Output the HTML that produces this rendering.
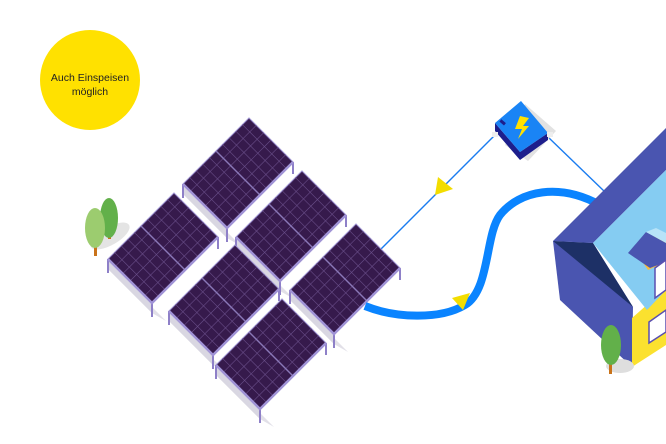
<!DOCTYPE html>
<html><head><meta charset="utf-8"><style>
html,body{margin:0;padding:0;background:#fff;width:666px;height:444px;overflow:hidden}
</style></head><body>
<svg width="666" height="444" viewBox="0 0 666 444" xmlns="http://www.w3.org/2000/svg">
<defs>
<g id="p">
  <polygon points="-66,76 -22,120 -8,128 -52,84" fill="#e2e0e8"/>
  <polygon points="-66,66 -22,110 -22,120 -66,76" fill="#d9d7e2"/>
  <line x1="-66" y1="66" x2="-66" y2="80" stroke="#8e80c8" stroke-width="2"/>
  <line x1="-22" y1="110" x2="-22" y2="124" stroke="#8e80c8" stroke-width="2"/>
  <line x1="44" y1="44" x2="44" y2="56" stroke="#8e80c8" stroke-width="2"/>
  <polygon points="0,0 44,44 -22,110 -66,66" fill="#361a4c" stroke="#9b8fd0" stroke-width="1"/>
  <g stroke="#6a4f8a" stroke-width="0.6">
    <line x1="-6.6" y1="6.6" x2="37.4" y2="50.6"/><line x1="-13.2" y1="13.2" x2="30.8" y2="57.2"/>
    <line x1="-19.8" y1="19.8" x2="24.2" y2="63.8"/><line x1="-26.4" y1="26.4" x2="17.6" y2="70.4"/>
    <line x1="-39.6" y1="39.6" x2="4.4" y2="83.6"/><line x1="-46.2" y1="46.2" x2="-2.2" y2="90.2"/>
    <line x1="-52.8" y1="52.8" x2="-8.8" y2="96.8"/><line x1="-59.4" y1="59.4" x2="-15.4" y2="103.4"/>
    <line x1="7.3" y1="7.3" x2="-58.7" y2="73.3"/><line x1="14.7" y1="14.7" x2="-51.3" y2="80.7"/>
    <line x1="22" y1="22" x2="-44" y2="88"/><line x1="29.3" y1="29.3" x2="-36.7" y2="95.3"/>
    <line x1="36.7" y1="36.7" x2="-29.3" y2="102.7"/>
  </g>
  <line x1="-33" y1="33" x2="11" y2="77" stroke="#8a78b8" stroke-width="1.4"/>
  <polyline points="-66,66 -22,110 44,44" fill="none" stroke="#a093d6" stroke-width="2.5"/>
</g>
</defs>

<circle cx="90" cy="80" r="50" fill="#ffe100"/>
<text x="90" y="81" font-family="Liberation Sans, sans-serif" font-size="10.5" fill="#222" text-anchor="middle">Auch Einspeisen</text>
<text x="90" y="95" font-family="Liberation Sans, sans-serif" font-size="10.5" fill="#222" text-anchor="middle">möglich</text>

<ellipse cx="110" cy="236" rx="22" ry="9" fill="#e4e4e4" transform="rotate(-30 110 236)"/>
<rect x="108" y="225" width="3" height="14" fill="#c9731a"/>
<ellipse cx="109" cy="218" rx="9" ry="20" fill="#62b04a"/>
<rect x="94" y="238" width="3" height="18" fill="#c9731a"/>
<ellipse cx="95" cy="228" rx="10" ry="20" fill="#9ccc6f"/>

<line x1="497" y1="133" x2="372" y2="258" stroke="#1a7cf0" stroke-width="1.4"/>
<polygon points="438,177 453,189 435,195" fill="#f3dd00"/>
<line x1="548" y1="137" x2="605" y2="192" stroke="#1a7cf0" stroke-width="1.4"/>

<use href="#p" x="249" y="118"/>
<use href="#p" x="174" y="193"/>
<use href="#p" x="302" y="171"/>
<use href="#p" x="235" y="245"/>
<use href="#p" x="356" y="224"/>
<use href="#p" x="282" y="299"/>

<path d="M365,306 C395,318 440,320 465,305 C490,290 485,235 500,215 C520,190 560,183 600,205" fill="none" stroke="#0a84ff" stroke-width="8"/>
<polygon points="452,298 470,293 463,310" fill="#f3dd00"/>

<polygon points="525,104 556,131 528,161 505,145" fill="#e2e2e2"/>
<polygon points="495,123 520,152 548,133 548,140 520,160 495,131" fill="#1d1e8c"/>
<polygon points="521,101 548,133 520,152 495,123" fill="#1a84f5"/>
<polygon points="520,116 529,118 523,126 529,126 518,139 522,129 515,129" fill="#ffe100"/>
<rect x="500" y="121" width="6" height="3" fill="#1d1e8c" transform="rotate(40 503 122)"/>
<rect x="492" y="132" width="6" height="5" fill="#eee"/>
<rect x="547" y="132" width="6" height="5" fill="#eee"/>

<polygon points="553,241 593,243 633,307 632,367 560,300" fill="#4a55b0"/>
<polygon points="553,241 593,243 633,307" fill="#1d3066"/>
<polygon points="632,318 666,288 666,345 632,367" fill="#fbe12f"/>
<polygon points="553,241 666,128 666,170 593,243" fill="#4a55b0"/>
<polygon points="593,243 666,170 666,290 647,310" fill="#85ccf2"/>
<polygon points="637,254 656,234 666,240 666,262 648,270" fill="#faba3a"/>
<polygon points="628,253 646,232 666,243 666,262 650,268" fill="#4a55b0"/>
<polygon points="646,232 656,228 666,233 666,243" fill="#b7e3f8"/>
<polygon points="655,268 666,260 666,290 655,298" fill="#fff" stroke="#5a4fb0" stroke-width="1.5"/>
<polygon points="649,322 666,310 666,332 649,343" fill="#fff" stroke="#5a4fb0" stroke-width="1.5"/>
<ellipse cx="620" cy="366" rx="14" ry="7" fill="#dedede"/>
<rect x="609" y="352" width="3" height="22" fill="#c9731a"/>
<ellipse cx="611" cy="345" rx="10" ry="20" fill="#62b04a"/>
</svg>
</body></html>
